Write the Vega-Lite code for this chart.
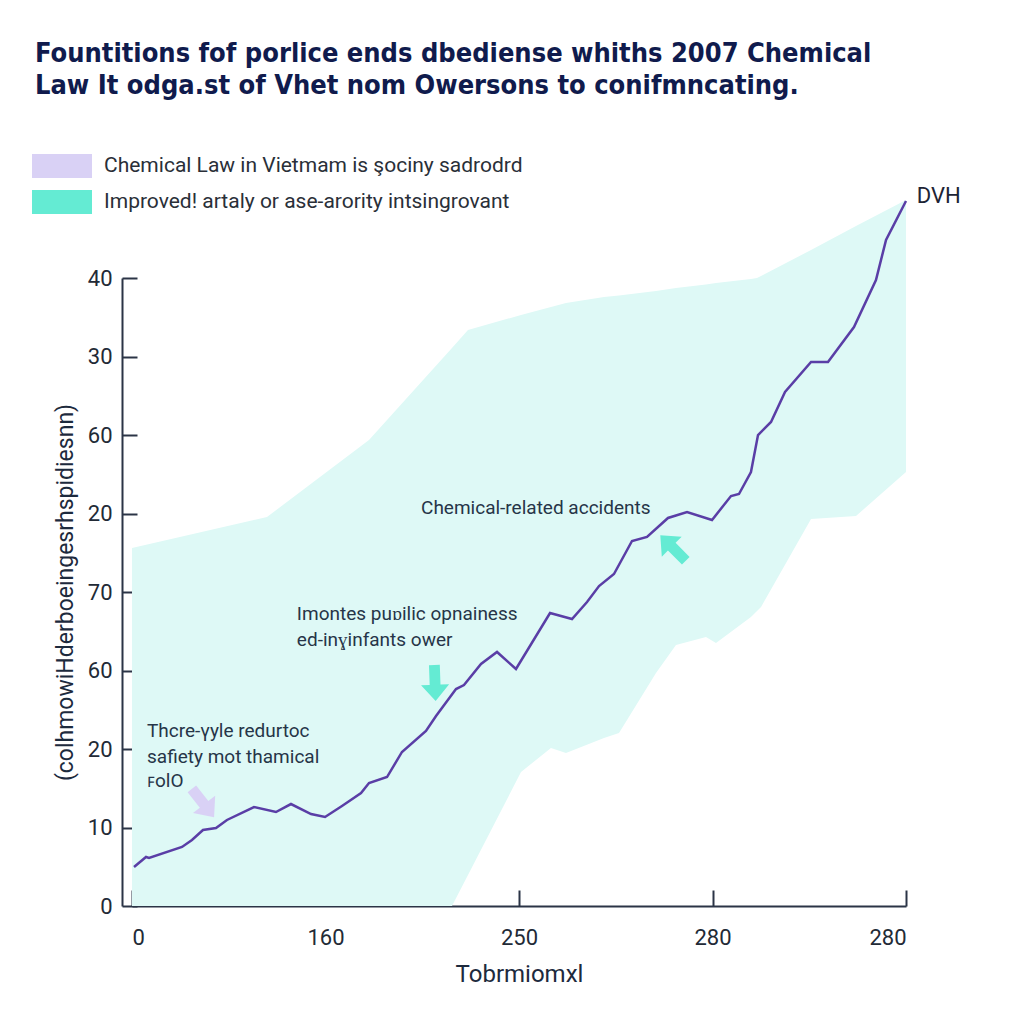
{
  "$schema": "https://vega.github.io/schema/vega-lite/v6.json",
  "autosize": {"type": "none"},
  "padding": {"left": 132, "top": 278, "right": 118, "bottom": 118},
  "width": 774,
  "height": 628,
  "background": "#ffffff",
  "title": {
    "text": ["Fountitions fof porlice ends dbediense whiths 2007 Chemical", "Law It odga.st of Vhet nom Owersons to conifmncating."],
    "anchor": "start",
    "frame": "group",
    "font": "'Liberation Sans Narrow', 'DejaVu Sans Condensed', sans-serif",
    "fontWeight": "bold",
    "fontSize": 27,
    "lineHeight": 32,
    "color": "#101b4d",
    "dx": -97,
    "offset": 54
  },
  "config": {
    "view": {"stroke": null},
    "axis": {
      "grid": false,
      "domainColor": "#2b3446",
      "domainWidth": 2,
      "tickColor": "#2b3446",
      "tickWidth": 2,
      "labelFont": "Roboto",
      "labelColor": "#222a36",
      "titleFont": "Roboto",
      "titleColor": "#1d2a3d",
      "titleFontWeight": "normal",
      "zindex": 1
    }
  },
  "datasets": {
    "band": [
      {"x": 0, "top": 4.561, "bottom": 0},
      {"x": 17.44, "top": 4.955, "bottom": 0},
      {"x": 30.62, "top": 5.936, "bottom": 0},
      {"x": 41.34, "top": 7.108, "bottom": 0},
      {"x": 43.41, "top": 7.338, "bottom": 0.395},
      {"x": 50.26, "top": 7.529, "bottom": 1.707},
      {"x": 54.13, "top": 7.631, "bottom": 2.013},
      {"x": 56.07, "top": 7.682, "bottom": 1.949},
      {"x": 60.98, "top": 7.758, "bottom": 2.14},
      {"x": 62.92, "top": 7.777, "bottom": 2.204},
      {"x": 67.7, "top": 7.834, "bottom": 2.968},
      {"x": 70.28, "top": 7.873, "bottom": 3.325},
      {"x": 74.16, "top": 7.917, "bottom": 3.427},
      {"x": 75.45, "top": 7.936, "bottom": 3.35},
      {"x": 79.97, "top": 7.987, "bottom": 3.682},
      {"x": 80.75, "top": 8.0, "bottom": 3.758},
      {"x": 81.27, "top": 8.025, "bottom": 3.809},
      {"x": 87.73, "top": 8.357, "bottom": 4.93},
      {"x": 93.54, "top": 8.662, "bottom": 4.968},
      {"x": 100, "top": 8.994, "bottom": 5.529}
    ],
    "line": [
      {"x": 0.26, "y": 0.497}, {"x": 1.81, "y": 0.624}, {"x": 2.2, "y": 0.611},
      {"x": 6.46, "y": 0.752}, {"x": 7.75, "y": 0.841}, {"x": 9.17, "y": 0.968},
      {"x": 10.85, "y": 0.994}, {"x": 12.27, "y": 1.096}, {"x": 15.76, "y": 1.261},
      {"x": 18.6, "y": 1.197}, {"x": 20.54, "y": 1.299}, {"x": 23.13, "y": 1.172},
      {"x": 24.94, "y": 1.134}, {"x": 27.13, "y": 1.274}, {"x": 29.59, "y": 1.439},
      {"x": 30.62, "y": 1.567}, {"x": 32.95, "y": 1.643}, {"x": 34.88, "y": 1.962},
      {"x": 37.98, "y": 2.229}, {"x": 39.28, "y": 2.42}, {"x": 41.86, "y": 2.764},
      {"x": 42.89, "y": 2.815}, {"x": 45.09, "y": 3.083}, {"x": 47.16, "y": 3.236},
      {"x": 49.61, "y": 3.019}, {"x": 54.01, "y": 3.732}, {"x": 56.85, "y": 3.656},
      {"x": 58.79, "y": 3.873}, {"x": 60.34, "y": 4.076}, {"x": 62.27, "y": 4.229},
      {"x": 64.6, "y": 4.65}, {"x": 66.54, "y": 4.701}, {"x": 69.25, "y": 4.943},
      {"x": 71.71, "y": 5.019}, {"x": 74.94, "y": 4.917}, {"x": 77.39, "y": 5.223},
      {"x": 78.42, "y": 5.248}, {"x": 79.97, "y": 5.529}, {"x": 80.88, "y": 6.0},
      {"x": 82.56, "y": 6.166}, {"x": 84.37, "y": 6.548}, {"x": 87.73, "y": 6.93},
      {"x": 89.92, "y": 6.93}, {"x": 93.28, "y": 7.376}, {"x": 96.12, "y": 7.975},
      {"x": 97.42, "y": 8.484}, {"x": 100, "y": 8.981}
    ],
    "arrows": [
      {"series": "Chemical Law in Vietmam is şociny sadrodrd", "x": 9.17, "y": 1.312, "angle": 142},
      {"series": "Improved! artaly or ase-arority intsingrovant", "x": 39.15, "y": 2.841, "angle": 178},
      {"series": "Improved! artaly or ase-arority intsingrovant", "x": 69.9, "y": 4.561, "angle": 315}
    ],
    "notes": [
      {"label": "Thcre-γyle redurtoc", "x": 1.94, "y": 2.229},
      {"label": "safiety mot thamical", "x": 1.94, "y": 1.898},
      {"label": "ꜰolO", "x": 1.94, "y": 1.592},
      {"label": "Imontes puɒilic opnainess", "x": 21.3, "y": 3.72},
      {"label": "ed-inɣinfants ower", "x": 21.3, "y": 3.389},
      {"label": "Chemical-related accidents", "x": 37.34, "y": 5.07}
    ],
    "end": [
      {"label": "DVH", "x": 101.4, "y": 9.045}
    ]
  },
  "layer": [
    {
      "data": {"name": "band"},
      "mark": {"type": "area", "color": "#def9f6", "opacity": 1, "clip": false},
      "encoding": {
        "x": {
          "field": "x", "type": "quantitative",
          "scale": {"domain": [0, 100], "nice": false, "zero": false},
          "axis": {
            "values": [0, 25, 50, 75, 100],
            "labelExpr": "datum.value == 0 ? '0' : datum.value == 25 ? '160' : datum.value == 50 ? '250' : '280'",
            "labelFontSize": 22,
            "tickSize": -16,
            "labelPadding": 37,
            "title": "Tobrmiomxl",
            "titleFontSize": 24,
            "titlePadding": 14
          }
        },
        "y": {
          "field": "top", "type": "quantitative",
          "scale": {"domain": [0, 8], "nice": false, "zero": false},
          "axis": {
            "values": [0, 1, 2, 3, 4, 5, 6, 7, 8],
            "labelExpr": "['0','10','20','60','70','20','60','30','40'][datum.value]",
            "labelFontSize": 22,
            "offset": 10,
            "tickSize": -15,
            "labelPadding": 25,
            "title": "(colhmowiHderboeingesrhspidiesnn)",
            "titleFontSize": 23,
            "titlePadding": 10
          }
        },
        "y2": {"field": "bottom"}
      }
    },
    {
      "data": {"name": "line"},
      "mark": {"type": "line", "color": "#5a3ea6", "strokeWidth": 2.5, "clip": false},
      "encoding": {
        "x": {"field": "x", "type": "quantitative"},
        "y": {"field": "y", "type": "quantitative"}
      }
    },
    {
      "data": {"name": "arrows"},
      "mark": {
        "type": "point",
        "shape": "M0,-1L0.78,-0.1L0.3,-0.1L0.3,1L-0.3,1L-0.3,-0.1L-0.78,-0.1Z",
        "filled": true,
        "opacity": 1,
        "size": 1300,
        "strokeWidth": 0
      },
      "encoding": {
        "x": {"field": "x", "type": "quantitative"},
        "y": {"field": "y", "type": "quantitative"},
        "angle": {"field": "angle", "type": "quantitative", "scale": null},
        "color": {
          "field": "series", "type": "nominal",
          "scale": {
            "domain": ["Chemical Law in Vietmam is şociny sadrodrd", "Improved! artaly or ase-arority intsingrovant"],
            "range": ["#d9d1f5", "#64ebd3"]
          },
          "legend": {
            "orient": "none",
            "legendX": -100,
            "legendY": -124,
            "title": null,
            "padding": 0,
            "symbolType": "M-1,-1H4V1H-1Z",
            "symbolSize": 576,
            "symbolStrokeWidth": 0,
            "symbolOpacity": 1,
            "labelFont": "Roboto",
            "labelFontSize": 21,
            "labelColor": "#2a2f38",
            "labelOffset": 48,
            "labelLimit": 700,
            "rowPadding": 12
          }
        }
      }
    },
    {
      "data": {"name": "notes"},
      "mark": {"type": "text", "align": "left", "baseline": "middle", "font": "Roboto", "fontSize": 19, "color": "#263548"},
      "encoding": {
        "x": {"field": "x", "type": "quantitative"},
        "y": {"field": "y", "type": "quantitative"},
        "text": {"field": "label"}
      }
    },
    {
      "data": {"name": "end"},
      "mark": {"type": "text", "align": "left", "baseline": "middle", "font": "Roboto", "fontSize": 22, "color": "#1d2435", "clip": false},
      "encoding": {
        "x": {"field": "x", "type": "quantitative"},
        "y": {"field": "y", "type": "quantitative"},
        "text": {"field": "label"}
      }
    }
  ]
}
